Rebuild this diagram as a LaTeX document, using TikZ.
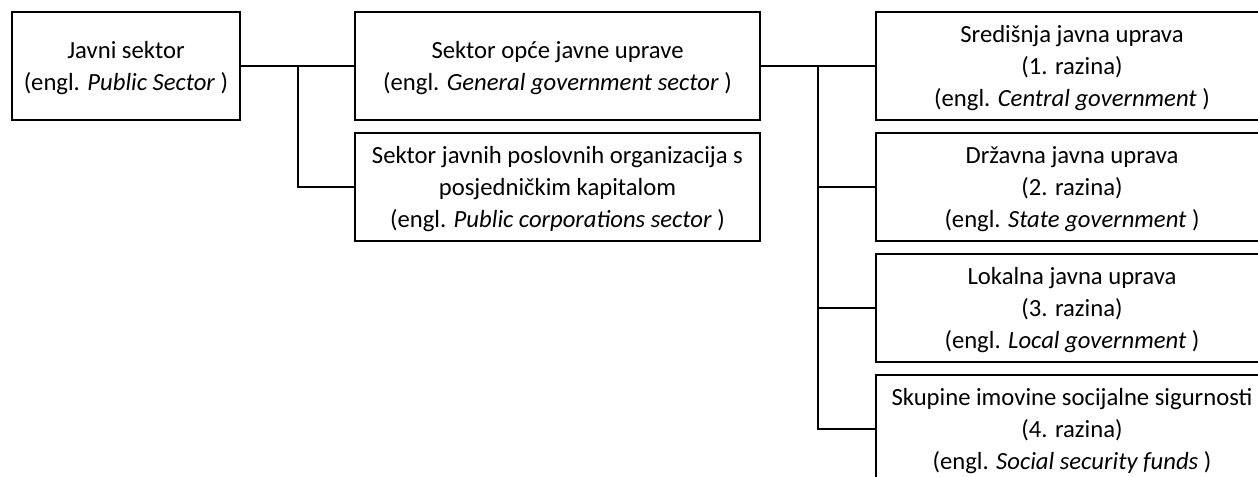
\documentclass[tikz,border=0pt]{standalone}
\usepackage{fontspec}
\setmainfont{Carlito}
\usepackage{tikz}
\usetikzlibrary{shapes,arrows}
\tikzstyle{r} = [rectangle, minimum height=81pt, text centered, align=center, draw=black, line width=1.5pt, inner sep=0pt, font=\fontsize{18.5}{24}\selectfont, text depth=-1.5pt]
\tikzstyle{jb} = [r, minimum width=171pt]
\tikzstyle{sb} = [r, minimum width=303.75pt]
\tikzstyle{rb} = [r, minimum width=294pt]
\tikzstyle{veza} = [line width=1.5pt]

\begin{document}
\begin{tikzpicture}[x=0.75pt, y=-0.75pt, node distance = 90.75pt]
		\useasboundingbox (0,0) rectangle (1258,477);
		\clip (0,0) rectangle (1258,477);
		\node[jb](javni) at (126,66){Javni sektor\\(engl. \textit{Public Sector} )};
		\node[sb](opca) at (557.5,66){Sektor opće javne uprave\\(engl. \textit{General government sector} )};
		\node[sb,below of=opca](poslovne){Sektor javnih poslovnih organizacija s\\posjedničkim kapitalom\\(engl. \textit{Public corporations sector} )};
		\node[rb](sredisnja) at (1072,66){Središnja javna uprava\\(1. razina)\\(engl. \textit{Central government} )};
		\node[rb,below of=sredisnja](drzavna){Državna javna uprava\\(2. razina)\\(engl. \textit{State government} )};
		\node[rb,below of=drzavna](lokalna){Lokalna javna uprava\\(3. razina)\\(engl. \textit{Local government} )};
		\node[rb,below of=lokalna](fondovi){Skupine imovine socijalne sigurnosti\\(4. razina)\\(engl. \textit{Social security funds} )};
		
		\coordinate (javnigrana) at (298,66);
		\coordinate (opcagrana) at (818,66);
		
		\draw[veza](javni)--(opca);
		\draw[veza](javnigrana)|-(poslovne.west);
		\draw[veza](opca)--(sredisnja);
		\draw[veza](opcagrana)|-(drzavna.west);
		\draw[veza](opcagrana)|-(lokalna.west);
		\draw[veza](opcagrana)|-(fondovi.west);
	\end{tikzpicture}
\end{document}
